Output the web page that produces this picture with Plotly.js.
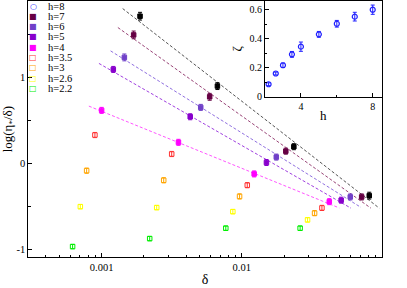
<!DOCTYPE html>
<html><head><meta charset="utf-8">
<script src="https://cdn.plot.ly/plotly-3.0.1.min.js"></script>
<style>html,body{margin:0;padding:0;background:#fff;}#chart{width:407px;height:288px;}</style>
</head><body><div id="chart"></div>
<script>
// ---------- data ----------
const seriesNames = ['h=8','h=7','h=6','h=5','h=4','h=3.5','h=3','h=2.6','h=2.2'];

const delta_h8  = [0.00188, 0.0067, 0.0235, 0.0811];
const val_h8    = [1.713, 0.899, 0.193, -0.377];
const err_h8    = [0.045, 0.04, 0.035, 0.04];

const delta_h7  = [0.001693, 0.0059, 0.0206, 0.07161];
const val_h7    = [1.495, 0.774, 0.141, -0.392];
const err_h7    = [0.045, 0.04, 0.035, 0.035];

const delta_h6  = [0.001453, 0.005093, 0.01762, 0.05939];
const val_h6    = [1.233, 0.651, 0.072, -0.392];
const err_h6    = [0.04, 0.035, 0.035, 0.035];

const delta_h5  = [0.001212, 0.004285, 0.01499, 0.05114];
const val_h5    = [1.093, 0.542, 0.009, -0.430];
const err_h5    = [0.035, 0.035, 0.035, 0.035];

const delta_h4  = [0.001, 0.003532, 0.01225, 0.04207];
const val_h4    = [0.616, 0.244, -0.124, -0.447];
const err_h4    = [0.035, 0.035, 0.035, 0.035];

const delta_h35 = [0.000896, 0.003162, 0.01094, 0.03728];
const val_h35   = [0.329, 0.108, -0.255, -0.520];
const err_h35   = [0.03, 0.03, 0.03, 0.03];

const delta_h3  = [0.000782, 0.002773, 0.00964, 0.03304];
const val_h3    = [-0.086, -0.198, -0.386, -0.581];
const err_h3    = [0.03, 0.03, 0.03, 0.03];

const delta_h26 = [0.000705, 0.002472, 0.00863, 0.02944];
const val_h26   = [-0.505, -0.516, -0.563, -0.659];
const err_h26   = [0.025, 0.025, 0.025, 0.025];

const delta_h22 = [0.000621, 0.002203, 0.00769, 0.02606];
const val_h22   = [-0.970, -0.877, -0.756, -0.756];
const err_h22   = [0.025, 0.025, 0.025, 0.025];

// dashed fit lines (start, end)
const fitDelta_h8 = [0.001413, 0.0957];  const fitVal_h8 = [1.802, -0.523];
const fitDelta_h7 = [0.001306, 0.0834];  const fitVal_h7 = [1.581, -0.523];
const fitDelta_h6 = [0.001159, 0.0708];  const fitVal_h6 = [1.309, -0.514];
const fitDelta_h5 = [0.000957, 0.0601];  const fitVal_h5 = [1.163, -0.523];
const fitDelta_h4 = [0.000811, 0.04955]; const fitVal_h4 = [0.666, -0.520];

// inset: zeta vs h
const insetH    = [2.2, 2.6, 3, 3.5, 4, 5, 6, 7, 8];
const insetZeta = [0.086, 0.160, 0.217, 0.292, 0.345, 0.430, 0.503, 0.552, 0.600];
const insetErr  = [0.01, 0.01, 0.015, 0.02, 0.032, 0.02, 0.023, 0.03, 0.032];

// axis tick labels
const xTickVals = [0.001, 0.01];
const xTickText = ['0.001', '0.01'];
const yTickVals = [-1, 0, 1];
const yTickText = ['-1', '0', '1'];
const insetXTicks = [4, 8];
const insetYTicks = [0, 0.2, 0.4, 0.6];
const insetYText  = ['0', '0.2', '0.4', '0.6'];

// ---------- styles ----------
const colors = {
  'h=8':'#000000','h=7':'#660044','h=6':'#7040c8','h=5':'#8800cc','h=4':'#ff00ff',
  'h=3.5':'#ff3333','h=3':'#ffa500','h=2.6':'#ffff00','h=2.2':'#00ee00'
};
const lineColors = {'h=8':'#555555','h=7':'#994477','h=6':'#9070e0','h=5':'#a040e0','h=4':'#ff55ff'};
const insetColor = '#2020ff';
const openSet = {'h=3.5':1,'h=3':1,'h=2.6':1,'h=2.2':1};

const dataMap = {
  'h=8':[delta_h8,val_h8,err_h8], 'h=7':[delta_h7,val_h7,err_h7], 'h=6':[delta_h6,val_h6,err_h6],
  'h=5':[delta_h5,val_h5,err_h5], 'h=4':[delta_h4,val_h4,err_h4], 'h=3.5':[delta_h35,val_h35,err_h35],
  'h=3':[delta_h3,val_h3,err_h3], 'h=2.6':[delta_h26,val_h26,err_h26], 'h=2.2':[delta_h22,val_h22,err_h22]
};
const fitMap = {
  'h=8':[fitDelta_h8,fitVal_h8], 'h=7':[fitDelta_h7,fitVal_h7], 'h=6':[fitDelta_h6,fitVal_h6],
  'h=5':[fitDelta_h5,fitVal_h5], 'h=4':[fitDelta_h4,fitVal_h4]
};

const traces = [];
Object.keys(fitMap).forEach(k => {
  traces.push({x:fitMap[k][0], y:fitMap[k][1], xaxis:'x', yaxis:'y', mode:'lines', type:'scatter',
    line:{color:lineColors[k], width:1, dash:'3px,2px'}, hoverinfo:'skip'});
});
seriesNames.forEach(k => {
  const d = dataMap[k];
  const open = !!openSet[k];
  traces.push({x:d[0], y:d[1], xaxis:'x', yaxis:'y', mode:'markers', type:'scatter', name:k,
    marker:{symbol: open ? 'square-open' : 'square', size: open ? 4.5 : 4.5, color:colors[k], line:{width:1, color:colors[k]}},
    error_y:{type:'data', array:d[2], visible:true, color:colors[k], thickness:1, width:2}});
});
traces.push({x:insetH, y:insetZeta, xaxis:'x2', yaxis:'y2', mode:'markers', type:'scatter',
  marker:{symbol:'circle-open', size:5, color:insetColor, line:{width:1.2, color:insetColor}},
  error_y:{type:'data', array:insetErr, visible:true, color:insetColor, thickness:1, width:2}});

// ---------- legend as annotations ----------
const legendGlyph = {'h=8':'○','h=7':'■','h=6':'■','h=5':'■','h=4':'■','h=3.5':'□','h=3':'□','h=2.6':'□','h=2.2':'□'};
const annotations = [];
seriesNames.forEach((k,i) => {
  const py = 6 + i*10.3;
  const c = k==='h=8' ? insetColor : colors[k];
  annotations.push({xref:'paper', yref:'paper', x:33/407, y:1-py/288, xanchor:'center', yanchor:'middle',
    text:legendGlyph[k], showarrow:false, borderpad:0, font:{family:'DejaVu Sans', size:8, color:c}});
  annotations.push({xref:'paper', yref:'paper', x:47/407, y:1-py/288, xanchor:'left', yanchor:'middle',
    text:k, showarrow:false, borderpad:0, font:{family:'Liberation Serif', size:10.5, color:'#000'}});
});

const axBase = {showline:true, mirror:true, linecolor:'#000', linewidth:1, showgrid:false, zeroline:false,
  ticks:'inside', ticklen:4, tickwidth:1, tickcolor:'#000'};

const layout = {
  width:407, height:288, margin:{l:0,r:0,t:0,b:0},
  paper_bgcolor:'#fff', plot_bgcolor:'#fff', showlegend:false,
  font:{family:'Liberation Serif, serif', size:10.5, color:'#000'},
  xaxis:Object.assign({}, axBase, {type:'log', anchor:'y', domain:[28.3/407, 381.7/407],
    range:[Math.log10(0.0003), Math.log10(0.0995)], tickmode:'array', tickvals:xTickVals, ticktext:xTickText,
    minor:{tickmode:'array', tickvals:[0.0004,0.0005,0.0006,0.0007,0.0008,0.0009,0.002,0.003,0.004,0.005,0.006,0.007,0.008,0.009,0.02,0.03,0.04,0.05,0.06,0.07,0.08,0.09],
      ticks:'inside', ticklen:2.5, tickcolor:'#000', showgrid:false},
    title:{text:'δ', font:{size:14}, standoff:2}}),
  yaxis:Object.assign({}, axBase, {anchor:'x', domain:[30.7/288, 287/288], range:[-1.095, 1.89],
    tickmode:'array', tickvals:yTickVals, ticktext:yTickText,
    minor:{tickmode:'array', tickvals:[-0.5,0.5,1.5], ticks:'inside', ticklen:3, tickcolor:'#000', showgrid:false},
    title:{text:'log(η<sub>*</sub>/δ)', font:{size:13}, standoff:4}}),
  xaxis2:Object.assign({}, axBase, {anchor:'y2', domain:[265/407, 381.7/407], range:[2, 8.5],
    tickmode:'array', tickvals:insetXTicks, ticktext:insetXTicks.map(String), tickfont:{size:10},
    minor:{tickmode:'array', tickvals:[6], ticks:'inside', ticklen:2, tickcolor:'#000', showgrid:false},
    title:{text:'h', font:{size:13}, standoff:0}}),
  yaxis2:Object.assign({}, axBase, {anchor:'x2', domain:[191.3/288, 287/288], range:[0, 0.66],
    tickmode:'array', tickvals:insetYTicks, ticktext:insetYText, tickfont:{size:10},
    minor:{tickmode:'array', tickvals:[0.1,0.3,0.5], ticks:'inside', ticklen:2, tickcolor:'#000', showgrid:false},
    title:{text:'ζ', font:{size:13}, standoff:4}}),
  annotations:annotations
};

Plotly.newPlot('chart', traces, layout, {staticPlot:true, displayModeBar:false});
</script>
</body></html>
